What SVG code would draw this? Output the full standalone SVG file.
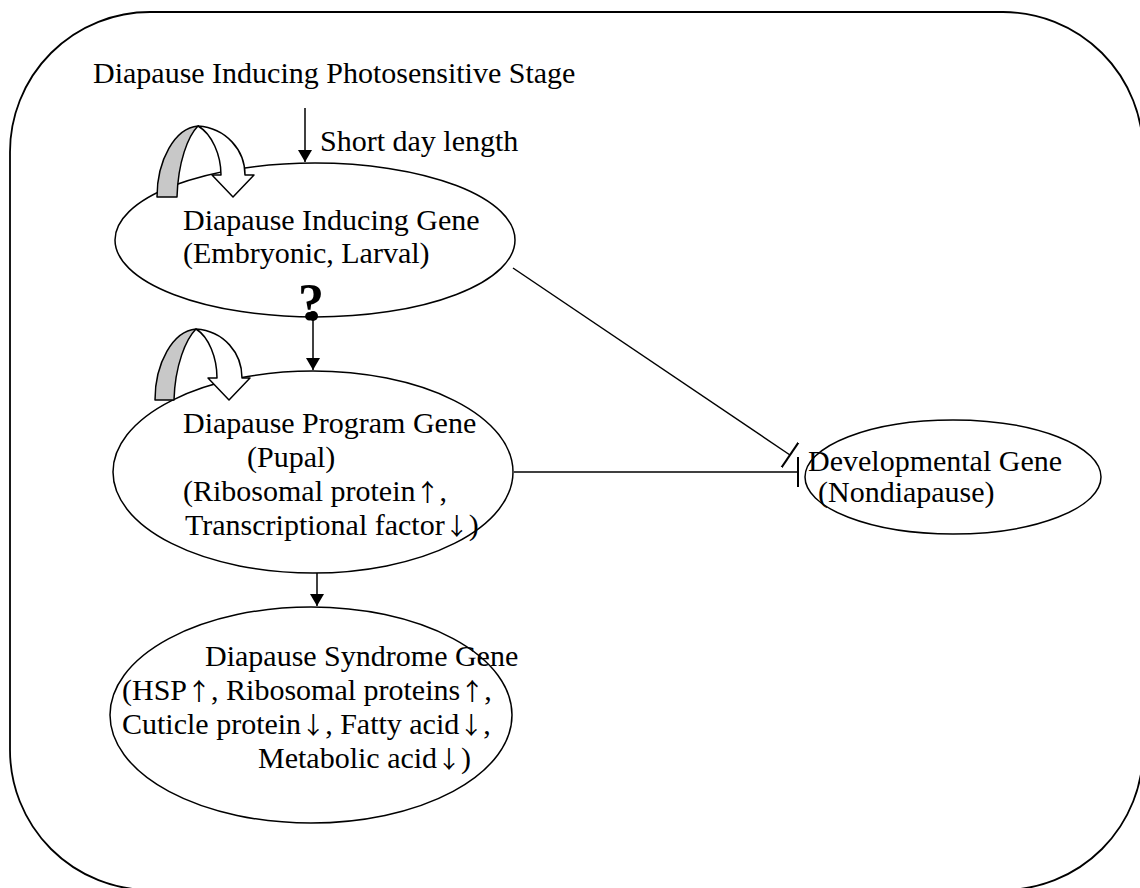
<svg xmlns="http://www.w3.org/2000/svg" width="1140" height="888" viewBox="0 0 1140 888">
<defs>
<style>
.t{font-family:"Liberation Serif","Times New Roman",serif;font-size:30px;fill:#000}
.a{font-family:"Noto Sans CJK SC","Noto Sans CJK JP",sans-serif;font-size:24px;fill:#000}
.e{fill:none;stroke:#000;stroke-width:1.5}
.c{fill:none;stroke:#000;stroke-width:1.5}
.g{fill:#c8c8c8;stroke:#000;stroke-width:1.5;stroke-linejoin:round}
.w{fill:#fff;stroke:#000;stroke-width:1.5;stroke-linejoin:round}
</style>
<marker id="ah" viewBox="0 0 12 14" refX="12" refY="7" markerWidth="12" markerHeight="14" markerUnits="userSpaceOnUse" orient="auto">
<path d="M0,0 L12,7 L0,14 Z" fill="#000"/>
</marker>
<marker id="tb" viewBox="0 0 4 30" refX="2" refY="15" markerWidth="4" markerHeight="30" markerUnits="userSpaceOnUse" orient="auto">
<path d="M2,0 L2,30" stroke="#000" stroke-width="2"/>
</marker>
<marker id="dot" viewBox="0 0 12 12" refX="6" refY="6" markerWidth="12" markerHeight="12" markerUnits="userSpaceOnUse" orient="auto">
<circle cx="6" cy="6" r="5" fill="#000"/>
</marker>
</defs>
<rect x="0" y="0" width="1140" height="888" fill="#fff"/>
<rect id="frame" x="10" y="12" width="1133" height="878" rx="140" ry="140" fill="none" stroke="#000" stroke-width="1.8"/>

<g id="title">
<text class="t" x="93" y="83">Diapause Inducing Photosensitive Stage</text>
</g>

<g id="connectors">
<line class="c" x1="305" y1="108" x2="305" y2="162" marker-end="url(#ah)"/>
<text class="t" x="320" y="151">Short day length</text>
<line class="c" x1="313" y1="316" x2="313" y2="370" marker-start="url(#dot)" marker-end="url(#ah)"/>
<line class="c" x1="317" y1="573" x2="317" y2="606" marker-end="url(#ah)"/>
<line class="c" x1="513" y1="268" x2="790" y2="455" marker-end="url(#tb)"/>
<line class="c" x1="514" y1="472" x2="798" y2="472" marker-end="url(#tb)"/>
</g>

<g id="node-inducing">
<ellipse class="e" cx="315" cy="240" rx="200" ry="77"/>
<text class="t" x="183" y="230">Diapause Inducing Gene</text>
<text class="t" x="183" y="263">(Embryonic, Larval)</text>
<text x="298" y="320" style="font-family:'Liberation Serif',serif;font-weight:bold;font-size:52px">?</text>
</g>

<g id="node-program">
<ellipse class="e" cx="313" cy="472" rx="200" ry="101"/>
<text class="t" x="183" y="433">Diapause Program Gene</text>
<text class="t" x="247" y="467">(Pupal)</text>
<text class="t" x="183" y="501">(Ribosomal protein<tspan class="a">↑</tspan>,</text>
<text class="t" x="185" y="535">Transcriptional factor<tspan class="a">↓</tspan>)</text>
</g>

<g id="node-syndrome">
<ellipse class="e" cx="311" cy="715" rx="201" ry="108"/>
<text class="t" x="205" y="666">Diapause Syndrome Gene</text>
<text class="t" x="122" y="700">(HSP<tspan class="a">↑</tspan>, Ribosomal proteins<tspan class="a">↑</tspan>,</text>
<text class="t" x="122" y="734">Cuticle protein<tspan class="a">↓</tspan>, Fatty acid<tspan class="a">↓</tspan>,</text>
<text class="t" x="258" y="768">Metabolic acid<tspan class="a">↓</tspan>)</text>
</g>

<g id="node-developmental">
<ellipse class="e" cx="953" cy="477" rx="148" ry="57"/>
<text class="t" x="808" y="471">Developmental Gene</text>
<text class="t" x="818" y="502">(Nondiapause)</text>
</g>

<g id="loop-1">
<path class="g" d="M157,197 C157,160 175,128 198,126 C188,136 178,162 177,197 Z"/>
<path class="w" d="M198,126 C226,128 245,150 245,175 L254,175 L233,197 L212,175 L221,175 C221,155 212,134 198,126 Z"/>
</g>
<g id="loop-2">
<path class="g" d="M155,400 C155,363 173,331 196,329 C186,339 175,365 174,400 Z"/>
<path class="w" d="M196,329 C224,331 242,353 242,378 L250,378 L229,400 L208,378 L217,378 C217,358 209,337 196,329 Z"/>
</g>
</svg>
